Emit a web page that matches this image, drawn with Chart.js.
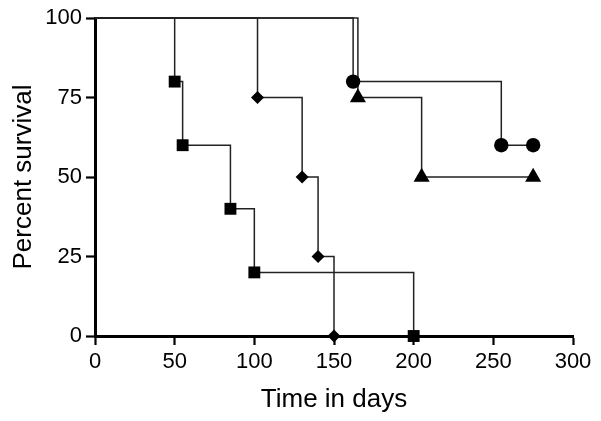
<!DOCTYPE html>
<html>
<head>
<meta charset="utf-8">
<script src="https://cdn.jsdelivr.net/npm/chart.js@4/dist/chart.umd.min.js"></script>
<style>
  html, body { margin: 0; padding: 0; background: #fff; }
  #wrap { width: 601px; height: 421px; }
</style>
</head>
<body>
<div id="wrap"><canvas id="c" width="601" height="421"></canvas></div>
<script>
// Kaplan-Meier style survival data (days, percent survival)
const squareDays = [0, 50, 55, 85, 100, 200];
const squareSurvival = [100, 80, 60, 40, 20, 0];
const diamondDays = [0, 102, 130, 140, 150];
const diamondSurvival = [100, 75, 50, 25, 0];
const circleDays = [0, 162, 255, 275];
const circleSurvival = [100, 80, 60, 60];
const triangleDays = [0, 165, 205, 275];
const triangleSurvival = [100, 75, 50, 50];

const xTicks = [0, 50, 100, 150, 200, 250, 300];
const yTicks = [0, 25, 50, 75, 100];

function pts(xs, ys) { return xs.map((x, i) => ({ x: x, y: ys[i] })); }

function series(xs, ys, style, r) {
  return {
    data: pts(xs, ys),
    stepped: 'before',
    borderColor: '#222',
    borderWidth: 1.5,
    pointStyle: style,
    pointRadius: xs.map((_, i) => i === 0 ? 0 : r),
    pointBackgroundColor: '#000',
    pointBorderColor: '#000',
    pointBorderWidth: 0,
    fill: false,
    clip: false
  };
}

const FONT = "'Liberation Sans', Arial, sans-serif";

new Chart(document.getElementById('c'), {
  type: 'line',
  data: {
    datasets: [
      series(squareDays, squareSurvival, 'rect', 8.4),
      series(diamondDays, diamondSurvival, 'rectRot', 6.5),
      series(circleDays, circleSurvival, 'circle', 7.2),
      series(triangleDays, triangleSurvival, 'triangle', 9.3)
    ]
  },
  options: {
    responsive: false,
    devicePixelRatio: 1,
    animation: false,
    events: [],
    layout: { padding: { top: 18, right: 28, bottom: 0, left: 0 } },
    plugins: { legend: { display: false }, tooltip: { enabled: false } },
    scales: {
      x: {
        type: 'linear',
        min: xTicks[0], max: xTicks[xTicks.length - 1],
        afterBuildTicks: s => { s.ticks = xTicks.map(v => ({ value: v })); },
        afterFit: s => { s.height = 85; },
        border: { display: true, color: '#000', width: 3 },
        grid: { drawOnChartArea: false, drawTicks: true, tickLength: 9, tickWidth: 2.2, tickColor: '#000', color: '#000' },
        ticks: { color: '#000', padding: 4, font: { family: FONT, size: 22 } },
        title: { display: true, text: 'Time in days', color: '#000', font: { family: FONT, size: 26 }, padding: { top: 0, bottom: 6 } }
      },
      y: {
        type: 'linear',
        min: yTicks[0], max: yTicks[yTicks.length - 1],
        afterBuildTicks: s => { s.ticks = yTicks.map(v => ({ value: v })); },
        afterFit: s => { s.width = 95; },
        border: { display: true, color: '#000', width: 3 },
        grid: { drawOnChartArea: false, drawTicks: true, tickLength: 9, tickWidth: 2.2, tickColor: '#000', color: '#000' },
        ticks: { color: '#000', padding: 4, font: { family: FONT, size: 22 } },
        title: { display: true, text: 'Percent survival', color: '#000', font: { family: FONT, size: 26 }, padding: { top: 8, bottom: 0 } }
      }
    }
  }
});
</script>
</body>
</html>
